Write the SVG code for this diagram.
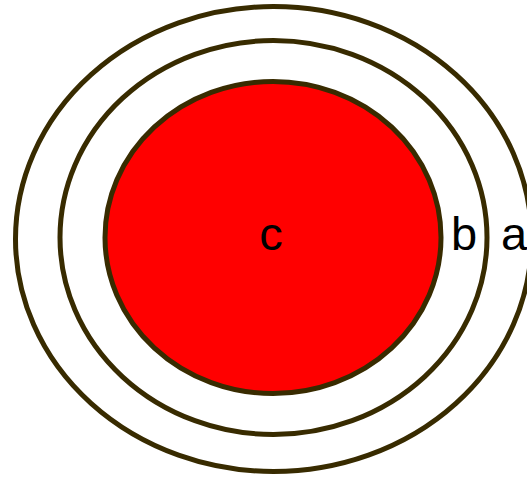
<svg xmlns="http://www.w3.org/2000/svg" width="527" height="479" viewBox="0 0 527 479">
<style>
.ring{fill:none;stroke:#382b00;stroke-width:5}
.core{fill:#ff0000;stroke:#382b00;stroke-width:5}
.lbl{font-family:"Liberation Sans",Arial,sans-serif;font-size:47px;fill:#000}
</style>
<rect width="527" height="479" fill="#fff"/>
<g id="a">
<ellipse class="ring" cx="273.5" cy="239" rx="258" ry="232.5"/>
<text class="lbl" x="501" y="250">a</text>
</g>
<g id="b">
<ellipse class="ring" cx="273.5" cy="237.5" rx="213.5" ry="197"/>
<text class="lbl" x="451" y="250">b</text>
</g>
<g id="c">
<ellipse class="core" cx="273" cy="237.5" rx="168" ry="156"/>
<text class="lbl" x="271" y="250" text-anchor="middle">c</text>
</g>
<g id="connectors"/>
</svg>
